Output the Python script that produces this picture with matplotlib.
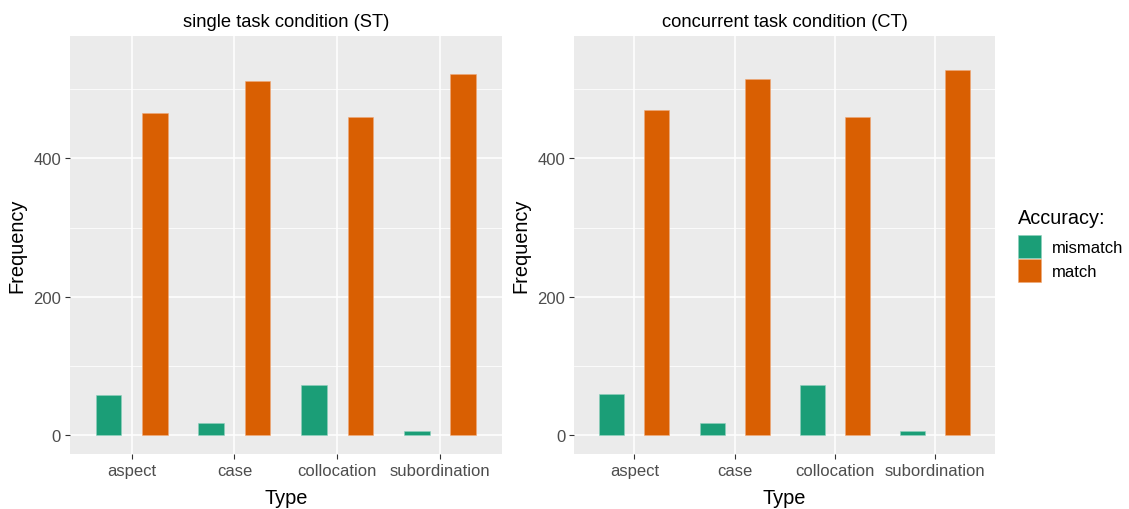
import numpy as np
import matplotlib
matplotlib.use('Agg')
import matplotlib.pyplot as plt

# data
types = ['aspect', 'case', 'collocation', 'subordination']
st_mismatch = [58, 18, 72, 6]
st_match = [466, 511, 459, 521]
ct_mismatch = [59, 18, 72, 6]
ct_match = [469, 515, 459, 527]
titles = ['single task condition (ST)', 'concurrent task condition (CT)']

green = '#1B9E77'
orange = '#D95F02'

plt.rcParams['font.family'] = ['Liberation Sans', 'DejaVu Sans']

fig = plt.figure(figsize=(11.29, 5.10), dpi=100)
ax1 = fig.add_axes([0.0620, 0.1078, 0.3824, 0.8203])
ax2 = fig.add_axes([0.5087, 0.1078, 0.3726, 0.8203])

x = np.arange(len(types))
w = 0.25
off = 0.225

for ax, mis, mat, title in [(ax1, st_mismatch, st_match, titles[0]),
                            (ax2, ct_mismatch, ct_match, titles[1])]:
    ax.set_facecolor('#EBEBEB')
    for s in ax.spines.values():
        s.set_visible(False)
    b1 = ax.bar(x - off, mis, w, color=green, edgecolor='#8fd0bd', linewidth=0.4,
                label='mismatch', zorder=3)
    b2 = ax.bar(x + off, mat, w, color=orange, edgecolor='#f0a978', linewidth=0.4,
                label='match', zorder=3)
    ax.set_xlim(-0.6, 3.6)
    ax.set_ylim(-27, 577)
    ax.set_yticks([0, 200, 400])
    ax.set_yticks([100, 300, 500], minor=True)
    ax.set_xticks(x)
    ax.set_xticklabels(types)
    ax.grid(True, which='major', color='white', linewidth=1.1, zorder=0)
    ax.grid(True, which='minor', axis='y', color='white', linewidth=0.55, zorder=0)
    ax.set_axisbelow(True)
    ax.tick_params(axis='both', which='major', colors='#333333', labelcolor='#4D4D4D',
                   labelsize=12, length=3.5, width=0.8, pad=3)
    ax.tick_params(axis='both', which='minor', length=0)
    ax.set_xlabel('Type', fontsize=14.4, labelpad=7)
    ax.set_ylabel('Frequency', fontsize=14.4, labelpad=5)
    ax.set_title(title, fontsize=13.2, pad=7)

# legend title placed by hand so the gap above the keys matches
fig.text(0.9017, 1 - 218 / 510, 'Accuracy:', fontsize=14.3, va='center', ha='left')
fig.legend(handles=[b1, b2], labels=['mismatch', 'match'],
           loc='upper left', bbox_to_anchor=(0.9017, 1 - 236 / 510), frameon=False,
           borderpad=0, borderaxespad=0,
           fontsize=12, handlelength=1.35, handleheight=1.75,
           handletextpad=0.7, labelspacing=0.05)

fig.savefig('out.png', dpi=100)
